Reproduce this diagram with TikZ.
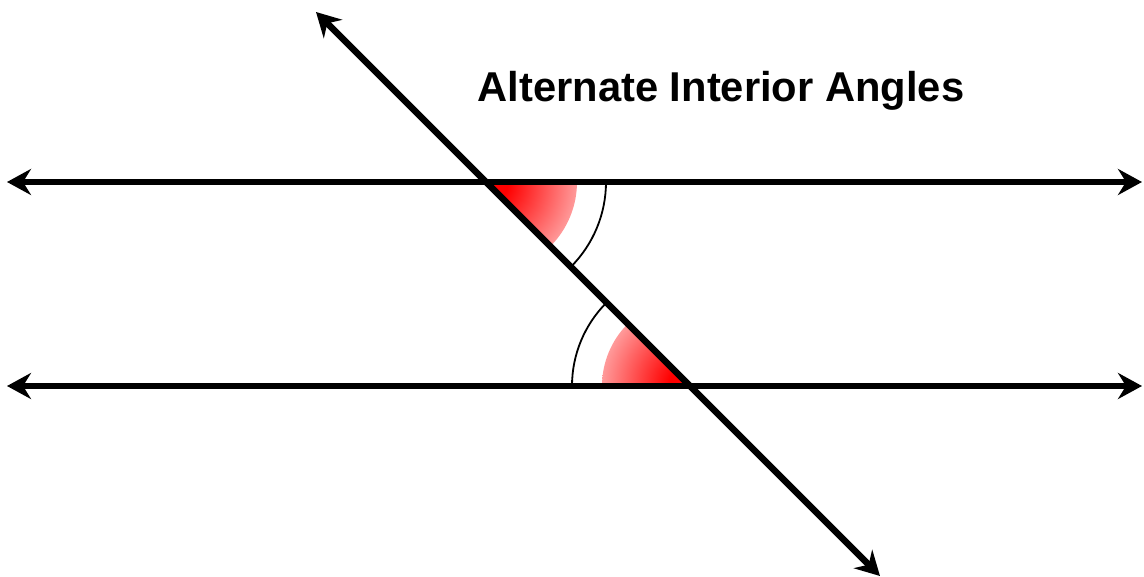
\documentclass[tikz,border=0pt]{standalone}
\usepackage{fontspec}
\setmainfont{Liberation Sans}
\usetikzlibrary{arrows.meta}
\pgfdeclareradialshading{redfadeshade}{\pgfpoint{0bp}{0bp}}{color(0bp)=(red); color(6bp)=(red); color(34bp)=(red!10!white); color(50bp)=(red!10!white)}
\begin{document}
\begin{tikzpicture}[x=1pt,y=-1pt,
  mainline/.style={line width=6.5pt, {Stealth[length=24pt,width=26pt,inset=8pt]}-{Stealth[length=24pt,width=26pt,inset=8pt]}},
  anglearc/.style={line width=1.8pt},
  redfade/.style={shading=redfadeshade},
  title/.style={font=\fontsize{41.7}{50}\selectfont\bfseries, inner sep=0pt}]
\useasboundingbox (0,0) rectangle (1144,577);
% endpoints
\coordinate (TL) at (7,182);
\coordinate (TR) at (1142,182);
\coordinate (BL) at (7,386);
\coordinate (BR) at (1142,386);
\coordinate (S1) at (316,12);
\coordinate (S2) at (880,576);
% intersections
\coordinate (P) at (486,182);
\coordinate (Q) at (690,386);
% red shadings
\begin{scope}
  \clip (P) -- ++(0:91) arc[start angle=0, end angle=45, radius=91] -- cycle;
  \shade[redfade] (P) circle (92);
\end{scope}
\begin{scope}
  \clip (Q) -- ++(180:88) arc[start angle=180, end angle=225, radius=88] -- cycle;
  \shade[redfade] (Q) circle (89);
\end{scope}
% angle arcs
\draw[anglearc] (P) ++(0:120) arc[start angle=0, end angle=45, radius=120];
\draw[anglearc] (Q) ++(180:118) arc[start angle=180, end angle=225, radius=118];
% lines
\draw[mainline] (TL) -- (TR);
\draw[mainline] (BL) -- (BR);
\draw[mainline] (S1) -- (S2);
\node[title] (T) at (721,91) {Alternate Interior Angles};
\end{tikzpicture}
\end{document}
